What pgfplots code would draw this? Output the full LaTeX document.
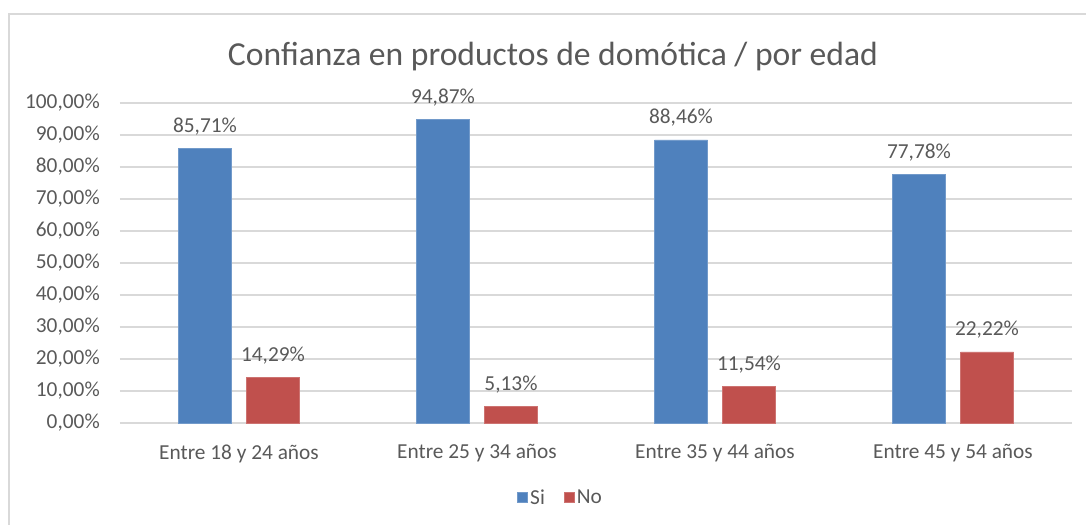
\documentclass[border=0pt]{standalone}
\usepackage{fontspec}
\setmainfont{Carlito}
\usepackage{pgfplots}
\pgfplotsset{compat=1.18}
\definecolor{txt}{HTML}{595959}
\definecolor{gridc}{HTML}{D9D9D9}
\definecolor{framec}{HTML}{D9D9D9}
\definecolor{sib}{HTML}{4F81BD}
\definecolor{nor}{HTML}{C0504D}
\begin{document}
\begin{tikzpicture}
\useasboundingbox (0pt,0pt) rectangle (814.5pt,393.75pt);
\draw[framec, line width=1.5pt] (6.75pt,0pt) -- (6.75pt,383.25pt) -- (814.5pt,383.25pt);
\node[txt, anchor=base, font=\fontsize{25.2}{30}\selectfont, inner sep=0pt] at (414.75pt,344.25pt) {Confianza en productos de domótica / por edad};
\begin{axis}[
  at={(90pt,76.5pt)}, anchor=south west,
  scale only axis, width=714pt, height=240pt,
  ybar,
  bar width=39.75pt,
  ymin=0, ymax=100, xmin=-0.5, xmax=3.5,
  xtick={0,1,2,3},
  xticklabels={Entre 18 y 24 años, Entre 25 y 34 años, Entre 35 y 44 años, Entre 45 y 54 años},
  ytick={0,10,...,100},
  ymajorgrids=true, xmajorgrids=false,
  grid style={draw=gridc, line width=1pt},
  axis line style={draw=none},
  major tick length=0pt,
  tick label style={txt, font=\fontsize{16}{19}\selectfont},
  yticklabel style={anchor=east, inner sep=0pt, xshift=-15pt},
  xticklabel style={anchor=north, inner sep=0pt, yshift=-16pt},
  yticklabel={\pgfmathprintnumber{\tick}\%},
  /pgf/number format/fixed, /pgf/number format/fixed zerofill,
  /pgf/number format/precision=2, /pgf/number format/use comma,
  /pgf/number format/assume math mode=true,
  nodes near coords={\pgfmathprintnumber{\pgfplotspointmeta}\%},
  every node near coord/.append style={txt, font=\fontsize{16}{19}\selectfont, anchor=base, inner sep=0pt, yshift=12pt},
  legend style={at={(0.463,-0.234)}, anchor=center, legend columns=2, draw=none, fill=none,
    font=\fontsize{16}{19}\selectfont, text=txt,
    /tikz/every even column/.append style={column sep=12pt}},
  legend image code/.code={\fill[#1] (0pt,-3.5pt) rectangle (7.5pt,4pt);},
]
\addplot[fill=sib, draw=sib!80!white, bar shift=-25.5pt] coordinates {(0,85.71) (1,94.87) (2,88.46) (3,77.78)};
\addplot[fill=nor, draw=nor!80!white, bar shift=25.5pt] coordinates {(0,14.29) (1,5.13) (2,11.54) (3,22.22)};
\legend{Si, No}
\end{axis}
\end{tikzpicture}
\end{document}
